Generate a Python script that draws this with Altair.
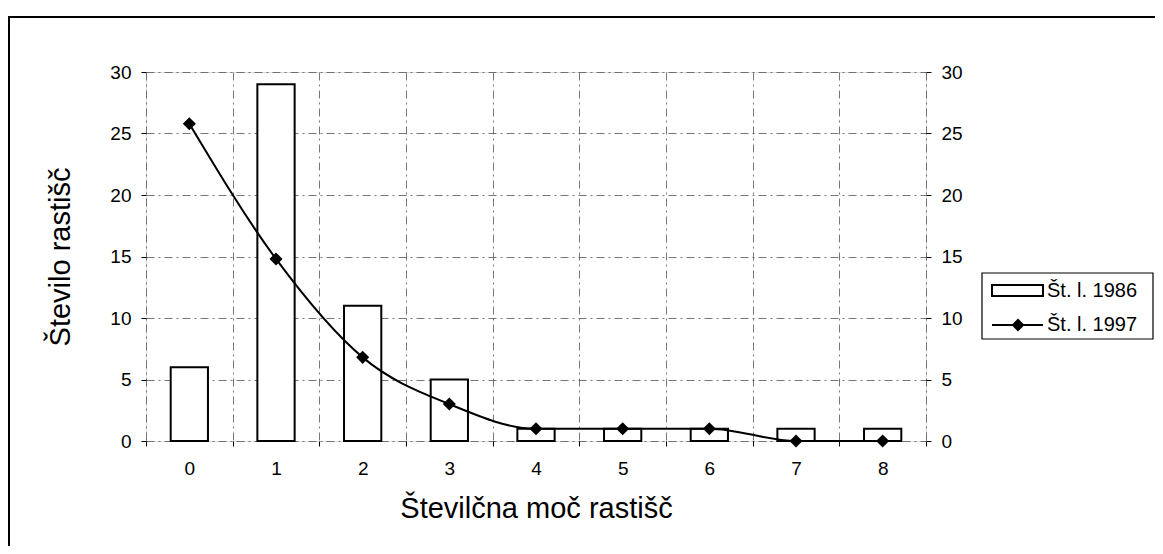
import altair as alt
import pandas as pd

categories = [0, 1, 2, 3, 4, 5, 6, 7, 8]
st_1986 = [6, 29, 11, 5, 1, 1, 1, 1, 1]
st_1997 = [25.8, 14.8, 6.8, 3.0, 1.0, 1.0, 1.0, 0.0, 0.0]
series_names = ["Št. l. 1986", "Št. l. 1997"]
x_title = "Številčna moč rastišč"
y_title = "Število rastišč"
y_ticks = [0, 5, 10, 15, 20, 25, 30]

df = pd.DataFrame({"cat": categories, "s1986": st_1986, "s1997": st_1997})

FONT = "Liberation Sans"
DASH = [8, 4, 2, 4]
TICK_FS = 19
TITLE_FS = 29
LEG_FS = 20

x_enc = alt.X(
    "cat:O",
    scale=alt.Scale(paddingInner=0, paddingOuter=0),
    axis=alt.Axis(
        title=x_title, labelAngle=0, tickBand="extent", grid=True,
        gridDash=DASH, gridColor="#555", gridWidth=1, gridOpacity=0.8,
        domain=False, ticks=True, tickSize=5, tickColor="black",
        labelFontSize=TICK_FS, labelColor="black", labelPadding=13,
        titleFontSize=TITLE_FS, titleFontWeight="normal", titleColor="black",
        titlePadding=16, labelFont=FONT, titleFont=FONT,
    ),
)

bars = alt.Chart(df).mark_bar(
    fill="white", stroke="black", strokeWidth=2,
    width=alt.RelativeBandSize(0.43),
).encode(
    x=x_enc,
    y=alt.Y(
        "s1986:Q",
        scale=alt.Scale(domain=[0, 30], nice=False),
        axis=alt.Axis(
            title=y_title, values=y_ticks, grid=True, gridDash=DASH,
            gridColor="#555", gridWidth=1, gridOpacity=0.8,
            domain=False, tickSize=5, tickColor="black",
            labelFontSize=TICK_FS, labelColor="black", labelPadding=10,
            titleFontSize=TITLE_FS, titleFontWeight="normal", titleColor="black",
            titlePadding=34, labelFont=FONT, titleFont=FONT,
        ),
    ),
)

line = alt.Chart(df).mark_line(
    color="black", strokeWidth=2, interpolate="monotone",
    point=alt.OverlayMarkDef(shape="diamond", size=170, filled=True, color="black"),
).encode(
    x=alt.X("cat:O"),
    y=alt.Y(
        "s1997:Q",
        scale=alt.Scale(domain=[0, 30], nice=False),
        axis=alt.Axis(
            title=None, orient="right", values=y_ticks, grid=False,
            domain=False, tickSize=5, tickColor="black",
            labelFontSize=TICK_FS, labelColor="black", labelPadding=10,
            labelFont=FONT,
        ),
    ),
)

one = pd.DataFrame({"k": [0]})

frame = alt.Chart(one).mark_rect(fill=None, stroke="black", strokeWidth=2).encode(
    x=alt.value(-137), x2=alt.value(1040), y=alt.value(-55), y2=alt.value(500)
)

leg_box = alt.Chart(one).mark_rect(fill="white", stroke="black", strokeWidth=1.2).encode(
    x=alt.value(836), x2=alt.value(1007), y=alt.value(201), y2=alt.value(267)
)
leg_swatch = alt.Chart(one).mark_rect(fill="white", stroke="black", strokeWidth=2).encode(
    x=alt.value(846), x2=alt.value(897), y=alt.value(213), y2=alt.value(224)
)
leg_line = alt.Chart(one).mark_rule(color="black", strokeWidth=2).encode(
    x=alt.value(846), x2=alt.value(897), y=alt.value(253)
)
leg_pt = alt.Chart(one).mark_point(shape="diamond", size=170, filled=True, color="black", opacity=1).encode(
    x=alt.value(872), y=alt.value(253)
)
leg_t1 = alt.Chart(one).mark_text(
    text=series_names[0], align="left", baseline="middle", fontSize=LEG_FS, font=FONT, color="black"
).encode(x=alt.value(901), y=alt.value(219))
leg_t2 = alt.Chart(one).mark_text(
    text=series_names[1], align="left", baseline="middle", fontSize=LEG_FS, font=FONT, color="black"
).encode(x=alt.value(901), y=alt.value(253))

main = alt.layer(bars, line).resolve_scale(y="independent")

chart = alt.layer(
    main, frame, leg_box, leg_swatch, leg_line, leg_pt, leg_t1, leg_t2
).properties(
    width=780, height=369,
    autosize=alt.AutoSizeParams(type="none"),
    padding={"left": 138, "top": 64, "right": 229, "bottom": 105},
).configure_view(
    stroke="black", strokeWidth=2
).configure(
    background="white"
)

chart.save("out.html", embed_options={"renderer": "svg", "actions": False})
